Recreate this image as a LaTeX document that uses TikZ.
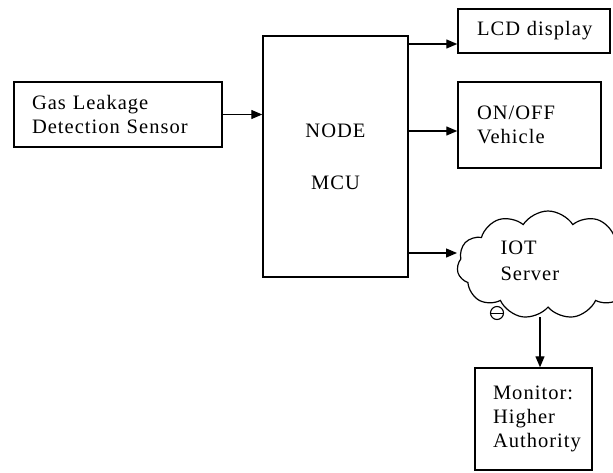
\documentclass[tikz,border=0pt]{standalone}
\usepackage{fontspec}
\setmainfont{Liberation Serif}[LetterSpace=5]
\usetikzlibrary{shapes.symbols,arrows.meta}
\tikzset{
  blk/.style={draw, line width=1.4pt, rectangle, inner sep=0pt, font=\fontsize{20.5}{24}\selectfont},
  arr/.style={line width=1.3pt, -{Triangle[length=11pt,width=9pt]}},
}
\begin{document}
\begin{tikzpicture}[x=1pt,y=-1pt]
\useasboundingbox (0,0) rectangle (613,472);
\clip (0,0) rectangle (613,472);
\node[blk, minimum width=208pt, minimum height=65pt, text width=172pt, align=left] (gas) at (118,114.5) {Gas Leakage\\Detection Sensor};
\node[blk, minimum width=145pt, minimum height=241pt, align=center] (mcu) at (335.5,156.5) {NODE\\[28pt]MCU};
\node[blk, minimum width=152pt, minimum height=44pt, text width=130pt, align=left, xshift=8pt, draw=none] (lcdtxt) at (534,31) {LCD display};
\node[blk, minimum width=152pt, minimum height=44pt] (lcd) at (534,31) {};
\node[blk, minimum width=143pt, minimum height=86pt, text width=105pt, align=left] (onoff) at (529.5,125) {ON/OFF\\Vehicle\\[10pt]};
\node[cloud, draw, line width=1.2pt, cloud puffs=11, cloud puff arc=115, aspect=1.7, minimum width=182pt, minimum height=108pt, inner sep=0pt] (cloud) at (548,265) {};
\node[font=\fontsize{20.5}{26}\selectfont, align=left, anchor=west] (iot) at (497,261) {IOT\\Server};
\node[blk, minimum width=117pt, minimum height=102pt, text width=81pt, align=left] (mon) at (533.5,419) {Monitor:\\Higher\\Authority\\[10pt]};
\node[draw, circle, line width=1.1pt, minimum size=13pt, inner sep=0pt] (dot) at (497,313) {};
\draw[line width=0.9pt] (dot.west) -- (dot.east);
% connectors
\draw[arr] (gas.east) -- (mcu.west |- gas.east);
\coordinate (c1) at (408,44);
\draw[arr] (c1 -| mcu.east) -- (c1 -| lcd.west);
\coordinate (c2) at (408,131);
\draw[arr] (c2 -| mcu.east) -- (c2 -| onoff.west);
\coordinate (c3) at (457,253);
\draw[arr] (c3 -| mcu.east) -- (c3);
\coordinate (c4) at (540,317);
\draw[arr] (c4) -- (c4 |- mon.north);
\end{tikzpicture}
\end{document}
